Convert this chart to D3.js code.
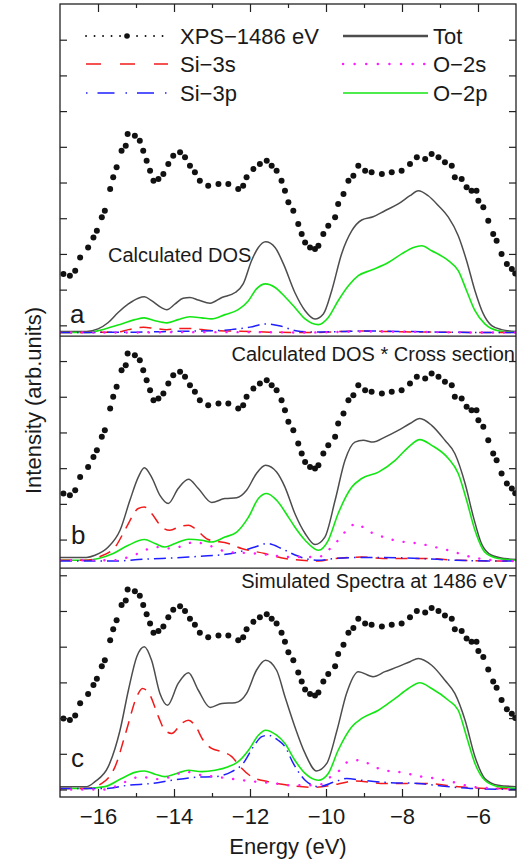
<!DOCTYPE html>
<html>
<head>
<meta charset="utf-8">
<script src="https://cdn.jsdelivr.net/npm/d3@7"></script>
<style>
  html, body { margin: 0; padding: 0; background: #fff; }
  svg { display: block; font-family: "Liberation Sans", Arial, Helvetica, sans-serif; }
</style>
</head>
<body>
<div id="chart"></div>
<script>
// x axis
const energyDomain = [-17, -5];
const energyMajorTicks = [-16, -14, -12, -10, -8, -6];
const energyMinorTicks = [-15, -13, -11, -9, -7];
// one intensity axis for the stacked panels, ticks every unit
const intensityDomain = [-0.21, 22.0];
const intensityTicks = d3.range(0, 22);

// XPS at 1486 eV (read in panel-a units, panels b and c reuse it shifted)
const xpsEnergy = [-16.91, -16.74, -16.6, -16.47, -16.26, -16.12, -16.03, -15.9, -15.82, -15.68,
  -15.6, -15.51, -15.38, -15.27, -15.22, -15.03, -14.9, -14.81, -14.72, -14.63,
  -14.54, -14.41, -14.28, -14.15, -14.02, -13.84, -13.71, -13.58, -13.45, -13.32,
  -13.1, -12.83, -12.57, -12.31, -12.18, -12.09, -11.91, -11.74, -11.56, -11.43,
  -11.3, -11.17, -11.08, -10.99, -10.86, -10.73, -10.64, -10.55, -10.42, -10.29,
  -10.2, -10.07, -9.94, -9.76, -9.68, -9.54, -9.41, -9.28, -9.15, -8.97,
  -8.8, -8.53, -8.27, -8.01, -7.79, -7.61, -7.39, -7.22, -7.04, -6.87,
  -6.69, -6.61, -6.43, -6.3, -6.17, -6.04, -5.99, -5.86, -5.73, -5.6,
  -5.51, -5.38, -5.24, -5.11, -5.02];
const xpsIntensity = [1.44, 1.39, 1.53, 1.90, 2.18, 2.46, 2.65, 3.03, 3.21, 3.82,
  4.15, 4.43, 4.89, 5.03, 5.36, 5.31, 5.17, 4.89, 4.61, 4.33,
  4.05, 4.10, 4.24, 4.52, 4.75, 4.85, 4.71, 4.47, 4.29, 4.05,
  3.91, 3.96, 3.96, 3.82, 3.91, 4.15, 4.38, 4.52, 4.61, 4.47,
  4.33, 4.05, 3.77, 3.45, 3.21, 2.84, 2.56, 2.32, 2.18, 2.14,
  2.23, 2.56, 2.79, 3.03, 3.40, 3.68, 4.05, 4.19, 4.47, 4.33,
  4.29, 4.24, 4.29, 4.33, 4.52, 4.71, 4.66, 4.80, 4.71, 4.57,
  4.47, 4.15, 4.10, 3.87, 3.77, 3.77, 3.49, 3.31, 2.93, 2.56,
  2.37, 2.00, 1.72, 1.58, 1.45];

// panel a: calculated DOS  [energy, intensity]
const totA = [[-17, -0.17], [-16.3, -0.17], [-16.0, -0.10], [-15.73, 0.08], [-15.47, 0.36], [-15.2, 0.60],
  [-14.94, 0.76], [-14.78, 0.80], [-14.59, 0.69], [-14.32, 0.49], [-14.19, 0.44], [-13.97, 0.60],
  [-13.76, 0.76], [-13.58, 0.78], [-13.36, 0.71], [-13.05, 0.62], [-12.74, 0.78], [-12.39, 0.92],
  [-12.18, 1.16], [-11.96, 1.81], [-11.78, 2.18], [-11.59, 2.34], [-11.34, 2.18], [-11.12, 1.72],
  [-10.82, 0.92], [-10.55, 0.41], [-10.29, 0.18], [-10.07, 0.32], [-9.85, 0.97], [-9.59, 2.0],
  [-9.32, 2.65], [-9.06, 2.95], [-8.76, 3.04], [-8.45, 3.21], [-8.1, 3.40], [-7.79, 3.63],
  [-7.57, 3.77], [-7.31, 3.63], [-7.04, 3.35], [-6.78, 3.03], [-6.52, 2.51], [-6.3, 1.81],
  [-6.08, 0.97], [-5.86, 0.32], [-5.64, -0.01], [-5.38, -0.12], [-5.0, -0.17]];
const o2pA = [[-17, -0.2], [-16.3, -0.2], [-15.82, -0.10], [-15.38, 0.04], [-15.03, 0.16], [-14.78, 0.21],
  [-14.5, 0.13], [-14.19, 0.07], [-13.89, 0.16], [-13.58, 0.24], [-13.27, 0.21], [-13.01, 0.18],
  [-12.66, 0.30], [-12.31, 0.44], [-12.04, 0.69], [-11.83, 1.02], [-11.59, 1.16], [-11.34, 1.06],
  [-11.08, 0.80], [-10.82, 0.50], [-10.55, 0.18], [-10.2, 0.02], [-9.94, 0.22], [-9.68, 0.69],
  [-9.41, 1.11], [-9.15, 1.39], [-8.8, 1.55], [-8.36, 1.76], [-8.01, 2.0], [-7.7, 2.18],
  [-7.48, 2.23], [-7.22, 2.09], [-6.78, 1.81], [-6.52, 1.53], [-6.3, 0.97], [-6.08, 0.41],
  [-5.82, 0.04], [-5.47, -0.15], [-5.0, -0.2]];
const si3sA = [[-17, -0.2], [-15.5, -0.19], [-15.2, -0.12], [-14.8, -0.05], [-14.5, -0.09], [-14.2, -0.12],
  [-13.8, -0.09], [-13.5, -0.09], [-13.1, -0.14], [-12.5, -0.16], [-12, -0.17], [-11.5, -0.19],
  [-10.3, -0.2], [-9.5, -0.17], [-9, -0.16], [-8.5, -0.17], [-8, -0.18], [-7, -0.19], [-6, -0.2], [-5, -0.2]];
const si3pA = [[-17, -0.2], [-15, -0.19], [-14, -0.17], [-13, -0.15], [-12.5, -0.12], [-12, -0.05],
  [-11.6, 0.04], [-11.2, -0.02], [-10.8, -0.15], [-10.3, -0.19], [-9.5, -0.17], [-9, -0.16],
  [-8, -0.17], [-7, -0.19], [-6, -0.2], [-5, -0.2]];
const o2sA = [[-17, -0.2], [-15, -0.2], [-14, -0.19], [-12, -0.19], [-10.5, -0.2], [-9.5, -0.18],
  [-9, -0.17], [-8, -0.18], [-7, -0.19], [-6, -0.2], [-5, -0.2]];

// panel b: calculated DOS * cross section
const totB = [[-17, 0.5], [-16.3, 0.5], [-16.08, 0.56], [-15.73, 0.79], [-15.42, 1.26], [-15.16, 2.10],
  [-14.94, 2.75], [-14.78, 3.01], [-14.59, 2.75], [-14.37, 2.24], [-14.15, 2.01], [-13.89, 2.43],
  [-13.62, 2.69], [-13.36, 2.43], [-13.01, 2.04], [-12.66, 2.15], [-12.35, 2.17], [-12.09, 2.38],
  [-11.83, 2.85], [-11.59, 3.08], [-11.3, 2.89], [-11.08, 2.47], [-10.82, 1.73], [-10.55, 1.17],
  [-10.29, 0.86], [-10.03, 1.07], [-9.76, 2.10], [-9.5, 3.22], [-9.24, 3.73], [-9.02, 3.78],
  [-8.76, 3.73], [-8.45, 3.87], [-8.1, 4.06], [-7.79, 4.25], [-7.53, 4.39], [-7.22, 4.20],
  [-6.87, 3.78], [-6.61, 3.41], [-6.34, 2.57], [-6.12, 1.63], [-5.91, 0.89], [-5.64, 0.56],
  [-5.29, 0.47], [-5.0, 0.44]];
const o2pB = [[-17, 0.42], [-16.3, 0.42], [-15.99, 0.47], [-15.6, 0.61], [-15.2, 0.84], [-14.78, 1.0],
  [-14.5, 0.89], [-14.24, 0.79], [-13.97, 0.89], [-13.62, 1.01], [-13.27, 0.98], [-13.01, 0.93],
  [-12.66, 1.07], [-12.35, 1.21], [-12.04, 1.63], [-11.78, 2.15], [-11.56, 2.29], [-11.3, 2.10],
  [-10.99, 1.63], [-10.82, 1.35], [-10.55, 0.98], [-10.2, 0.70], [-9.94, 0.98], [-9.68, 1.73],
  [-9.32, 2.47], [-9.06, 2.71], [-8.62, 2.89], [-8.18, 3.22], [-7.83, 3.59], [-7.53, 3.80],
  [-7.22, 3.64], [-6.78, 3.27], [-6.52, 2.85], [-6.3, 2.10], [-6.08, 1.26], [-5.82, 0.65],
  [-5.47, 0.47], [-5.0, 0.42]];
const si3sB = [[-17, 0.42], [-16.3, 0.42], [-15.99, 0.51], [-15.55, 0.79], [-15.25, 1.35], [-14.94, 1.87],
  [-14.78, 1.91], [-14.59, 1.73], [-14.32, 1.35], [-14.11, 1.26], [-13.84, 1.37], [-13.62, 1.40],
  [-13.45, 1.31], [-13.1, 1.0], [-12.57, 0.89], [-12.22, 0.75], [-11.61, 0.61], [-11.08, 0.47],
  [-10.2, 0.40], [-9.76, 0.47], [-9.06, 0.51], [-8.5, 0.47], [-7.4, 0.47], [-6.5, 0.42],
  [-5.5, 0.40], [-5, 0.40]];
const si3pB = [[-17, 0.40], [-15.5, 0.40], [-14.94, 0.44], [-13.62, 0.51], [-12.48, 0.61], [-11.87, 0.79],
  [-11.56, 0.89], [-11.17, 0.75], [-10.9, 0.61], [-10.55, 0.47], [-10.2, 0.42], [-9.76, 0.47],
  [-8.9, 0.50], [-7.5, 0.47], [-6.6, 0.42], [-5.5, 0.40], [-5, 0.40]];
const o2sB = [[-17, 0.42], [-15.6, 0.42], [-14.94, 0.61], [-14.5, 0.79], [-14.06, 0.75], [-13.45, 0.93],
  [-13.1, 0.84], [-12.57, 0.65], [-11.87, 0.61], [-11.43, 0.56], [-10.99, 0.51], [-10.2, 0.51],
  [-9.94, 0.70], [-9.68, 0.98], [-9.46, 1.26], [-9.19, 1.45], [-8.93, 1.26], [-8.62, 1.12],
  [-8.27, 1.0], [-7.92, 0.93], [-7.57, 0.89], [-7.13, 0.79], [-6.78, 0.70], [-6.17, 0.51],
  [-5.6, 0.42], [-5, 0.40]];

// panel c: simulated spectra at 1486 eV
const totC = [[-17, 0.08], [-16.3, 0.08], [-16.08, 0.22], [-15.73, 0.64], [-15.42, 1.66], [-15.2, 2.78],
  [-14.98, 3.72], [-14.78, 4.0], [-14.59, 3.62], [-14.37, 2.69], [-14.17, 2.36], [-13.89, 2.97],
  [-13.62, 3.27], [-13.36, 2.78], [-13.05, 2.30], [-12.74, 2.41], [-12.39, 2.43], [-12.09, 2.69],
  [-11.83, 3.34], [-11.59, 3.62], [-11.3, 3.34], [-11.08, 2.60], [-10.82, 1.76], [-10.55, 1.01],
  [-10.25, 0.52], [-9.98, 0.73], [-9.71, 1.66], [-9.46, 2.69], [-9.15, 3.30], [-8.76, 3.16],
  [-8.45, 3.30], [-8.1, 3.44], [-7.79, 3.58], [-7.57, 3.67], [-7.22, 3.48], [-6.87, 3.06],
  [-6.61, 2.69], [-6.34, 1.94], [-6.08, 0.92], [-5.82, 0.31], [-5.47, 0.12], [-5.0, 0.08]];
const o2pC = [[-17, 0.03], [-16.3, 0.03], [-15.82, 0.08], [-15.38, 0.31], [-15.03, 0.48], [-14.78, 0.52],
  [-14.5, 0.43], [-14.24, 0.36], [-13.93, 0.45], [-13.62, 0.54], [-13.27, 0.50], [-12.92, 0.54],
  [-12.57, 0.64], [-12.31, 0.78], [-12.04, 1.10], [-11.78, 1.52], [-11.59, 1.66], [-11.3, 1.52],
  [-11.08, 1.29], [-10.82, 0.82], [-10.55, 0.45], [-10.2, 0.26], [-9.94, 0.45], [-9.68, 1.10],
  [-9.32, 1.76], [-9.06, 1.99], [-8.62, 2.22], [-8.18, 2.55], [-7.83, 2.83], [-7.53, 2.99],
  [-7.22, 2.83], [-6.78, 2.50], [-6.52, 2.22], [-6.3, 1.48], [-6.08, 0.73], [-5.82, 0.26],
  [-5.47, 0.08], [-5.0, 0.03]];
const si3sC = [[-17, 0.03], [-16.3, 0.03], [-15.9, 0.17], [-15.55, 0.64], [-15.25, 1.66], [-14.98, 2.60],
  [-14.83, 2.83], [-14.63, 2.64], [-14.41, 2.04], [-14.24, 1.66], [-14.06, 1.57], [-13.8, 1.85],
  [-13.62, 1.94], [-13.45, 1.80], [-13.23, 1.38], [-13.01, 1.15], [-12.74, 1.06], [-12.48, 0.92],
  [-12.26, 0.64], [-11.96, 0.36], [-11.52, 0.22], [-10.99, 0.12], [-10.3, 0.06], [-9.7, 0.15],
  [-9.24, 0.24], [-8.45, 0.17], [-7.4, 0.17], [-6.52, 0.08], [-5.8, 0.03], [-5, 0.02]];
const si3pC = [[-17, 0.03], [-15.8, 0.03], [-15.2, 0.12], [-14.59, 0.17], [-14.06, 0.26], [-13.45, 0.34],
  [-12.92, 0.36], [-12.48, 0.50], [-12.18, 0.73], [-11.91, 1.20], [-11.69, 1.48], [-11.52, 1.52],
  [-11.26, 1.38], [-11.08, 1.20], [-10.86, 0.73], [-10.55, 0.26], [-10.2, 0.08], [-9.76, 0.22],
  [-9.46, 0.31], [-9.06, 0.26], [-8.45, 0.20], [-7.57, 0.17], [-6.96, 0.10], [-6.2, 0.03], [-5, 0.0]];
const o2sC = [[-17, 0.0], [-15.8, 0.0], [-15.38, 0.17], [-14.86, 0.36], [-14.5, 0.29], [-14.06, 0.36],
  [-13.71, 0.50], [-13.27, 0.40], [-12.92, 0.36], [-12.57, 0.31], [-11.87, 0.22], [-11.34, 0.17],
  [-10.99, 0.12], [-10.2, 0.12], [-9.94, 0.31], [-9.68, 0.50], [-9.41, 0.78], [-9.1, 0.82],
  [-8.8, 0.68], [-8.49, 0.54], [-8.14, 0.50], [-7.79, 0.43], [-7.48, 0.36], [-7.13, 0.31],
  [-6.78, 0.24], [-6.17, 0.08], [-5.6, 0.03], [-5, 0.0]];

const seriesLabels = ['XPS\u22121486 eV', 'Tot', 'Si\u22123s', 'O\u22122s', 'Si\u22123p', 'O\u22122p'];
const panelTitles = ['Calculated DOS', 'Calculated DOS * Cross section', 'Simulated Spectra at 1486 eV'];
const panelLetters = ['a', 'b', 'c'];

// line looks, keyed by series
const styles = {
    tot:  { color: '#4d4d4d', width: 1.5, dash: null },
    o2p:  { color: '#14e614', width: 1.6, dash: null },
    si3s: { color: '#f21a1a', width: 1.5, dash: '12,8' },
    si3p: { color: '#1f1fff', width: 1.5, dash: '12,5,1.5,5' },
    o2s:  { color: '#ff1aff', width: 2.4, dash: '0.1,11', cap: 'round' }
};

const panels = [
    { letter: panelLetters[0], title: panelTitles[0], offset: 13, span: [12.7, 22.0],
      xpsOffset: 13, xpsScale: 1,
      curves: { tot: totA, o2p: o2pA, si3s: si3sA, si3p: si3pA, o2s: o2sA },
      titlePos: { x: 108, y: 261.7, anchor: 'start' }, letterPos: { x: 70, y: 323 } },
    { letter: panelLetters[1], title: panelTitles[1], offset: 6, span: [6.2, 12.7],
      xpsOffset: 6.85, xpsScale: 1,
      curves: { tot: totB, o2p: o2pB, si3s: si3sB, si3p: si3pB, o2s: o2sB },
      titlePos: { x: 515, y: 360.5, anchor: 'end' }, letterPos: { x: 71, y: 544 } },
    { letter: panelLetters[2], title: panelTitles[2], offset: 0, span: [-0.21, 6.2],
      xpsOffset: 0.667, xpsScale: 0.92,
      curves: { tot: totC, o2p: o2pC, si3s: si3sC, si3p: si3pC, o2s: o2sC },
      titlePos: { x: 507, y: 588, anchor: 'end' }, letterPos: { x: 71, y: 767 } }
];

const spectraChart = {
    width: 531,
    height: 866,
    frame: { left: 60, right: 516, top: 4, bottom: 797 },
    svg: null,
    x: null,
    y: null,

    init(containerId) {
        this.svg = d3.select(`#${containerId}`)
            .append('svg')
            .attr('width', this.width)
            .attr('height', this.height);

        this.x = d3.scaleLinear().domain(energyDomain).range([this.frame.left, this.frame.right]);
        this.y = d3.scaleLinear().domain(intensityDomain).range([this.frame.bottom, this.frame.top]);
    },

    render() {
        panels.forEach((p, i) => this.drawPanel(p, i));
        this.drawFrame();
        this.drawAxes();
        this.drawLegend();
    },

    drawPanel(p, i) {
        const x = this.x, y = this.y;
        const defs = this.svg.append('defs');
        defs.append('clipPath')
            .attr('id', `clip-${i}`)
            .append('rect')
            .attr('x', this.frame.left)
            .attr('y', y(p.span[1]))
            .attr('width', this.frame.right - this.frame.left)
            .attr('height', y(p.span[0]) - y(p.span[1]));

        const g = this.svg.append('g').attr('clip-path', `url(#clip-${i})`);

        const line = d3.line()
            .x(d => x(d[0]))
            .y(d => y(d[1] + p.offset))
            .curve(d3.curveMonotoneX);

        ['tot', 'o2p', 'si3s', 'si3p', 'o2s'].forEach(key => {
            const s = styles[key];
            g.append('path')
                .datum(p.curves[key])
                .attr('d', line)
                .attr('fill', 'none')
                .attr('stroke', s.color)
                .attr('stroke-width', s.width)
                .attr('stroke-dasharray', s.dash)
                .attr('stroke-linecap', s.cap || 'butt');
        });

        // XPS points
        g.append('g')
            .selectAll('circle')
            .data(xpsEnergy)
            .join('circle')
            .attr('cx', d => x(d))
            .attr('cy', (d, j) => y(xpsIntensity[j] * p.xpsScale + p.xpsOffset))
            .attr('r', 3)
            .attr('fill', '#111');

        this.svg.append('text')
            .attr('x', p.titlePos.x)
            .attr('y', p.titlePos.y)
            .attr('text-anchor', p.titlePos.anchor)
            .attr('font-size', '20px')
            .attr('fill', '#1a1a1a')
            .text(p.title);

        this.svg.append('text')
            .attr('x', p.letterPos.x)
            .attr('y', p.letterPos.y)
            .attr('font-size', '26px')
            .attr('fill', '#1a1a1a')
            .text(p.letter);
    },

    drawFrame() {
        const f = this.frame;
        this.svg.append('rect')
            .attr('x', f.left)
            .attr('y', f.top)
            .attr('width', f.right - f.left)
            .attr('height', f.bottom - f.top)
            .attr('fill', 'none')
            .attr('stroke', '#222')
            .attr('stroke-width', 1.3);

        // panel separators
        this.svg.append('g')
            .selectAll('line')
            .data([panels[0].span[0], panels[1].span[0]])
            .join('line')
            .attr('x1', f.left)
            .attr('x2', f.right)
            .attr('y1', d => this.y(d))
            .attr('y2', d => this.y(d))
            .attr('stroke', '#222')
            .attr('stroke-width', 1.3);
    },

    drawAxes() {
        const f = this.frame;
        const tidy = sel => {
            sel.select('.domain').remove();
            sel.selectAll('.tick line').attr('stroke', '#222').attr('stroke-width', 1.2);
            sel.selectAll('.tick text')
                .attr('fill', '#1a1a1a')
                .style('font-size', '22px')
                .style('font-family', '"Liberation Sans", Arial, Helvetica, sans-serif');
        };

        this.svg.append('g')
            .attr('transform', `translate(0,${f.bottom})`)
            .call(d3.axisBottom(this.x).tickValues(energyMajorTicks).tickSize(-8).tickPadding(11))
            .call(tidy);
        this.svg.append('g')
            .attr('transform', `translate(0,${f.bottom})`)
            .call(d3.axisBottom(this.x).tickValues(energyMinorTicks).tickSize(-4).tickFormat(''))
            .call(tidy);
        this.svg.append('g')
            .attr('transform', `translate(0,${f.top})`)
            .call(d3.axisTop(this.x).tickValues(energyMajorTicks).tickSize(-8).tickFormat(''))
            .call(tidy);
        this.svg.append('g')
            .attr('transform', `translate(0,${f.top})`)
            .call(d3.axisTop(this.x).tickValues(energyMinorTicks).tickSize(-4).tickFormat(''))
            .call(tidy);

        this.svg.append('g')
            .attr('transform', `translate(${f.left},0)`)
            .call(d3.axisLeft(this.y).tickValues(intensityTicks).tickSize(-7).tickFormat(''))
            .call(tidy);
        this.svg.append('g')
            .attr('transform', `translate(${f.right},0)`)
            .call(d3.axisRight(this.y).tickValues(intensityTicks).tickSize(-7).tickFormat(''))
            .call(tidy);

        this.svg.append('text')
            .attr('x', (f.left + f.right) / 2)
            .attr('y', 854)
            .attr('text-anchor', 'middle')
            .attr('font-size', '22px')
            .attr('fill', '#1a1a1a')
            .text('Energy (eV)');

        this.svg.append('text')
            .attr('transform', `translate(41,${(f.top + f.bottom) / 2}) rotate(-90)`)
            .attr('text-anchor', 'middle')
            .attr('font-size', '22px')
            .attr('fill', '#1a1a1a')
            .text('Intensity (arb.units)');
    },

    drawLegend() {
        const rows = [36, 64, 93];
        const cols = [{ x0: 86, x1: 168, tx: 180 }, { x0: 343, x1: 428, tx: 433 }];
        const items = [
            { label: seriesLabels[0], row: 0, col: 0, kind: 'xps' },
            { label: seriesLabels[1], row: 0, col: 1, kind: 'tot' },
            { label: seriesLabels[2], row: 1, col: 0, kind: 'si3s' },
            { label: seriesLabels[3], row: 1, col: 1, kind: 'o2s' },
            { label: seriesLabels[4], row: 2, col: 0, kind: 'si3p' },
            { label: seriesLabels[5], row: 2, col: 1, kind: 'o2p' }
        ];
        const legendDash = { si3s: '15,19', si3p: '1.5,10,17,11', o2s: '0.1,11.5' };

        const g = this.svg.append('g').attr('class', 'legend');
        items.forEach(it => {
            const c = cols[it.col], ly = rows[it.row];
            if (it.kind === 'xps') {
                g.append('line')
                    .attr('x1', c.x0).attr('x2', c.x1 - 2)
                    .attr('y1', ly).attr('y2', ly)
                    .attr('stroke', '#111')
                    .attr('stroke-width', 1.8)
                    .attr('stroke-linecap', 'round')
                    .attr('stroke-dasharray', '0.1,8.4');
                g.append('circle')
                    .attr('cx', (c.x0 + c.x1) / 2)
                    .attr('cy', ly)
                    .attr('r', 2.8)
                    .attr('fill', '#111');
            } else {
                const s = styles[it.kind];
                g.append('line')
                    .attr('x1', c.x0).attr('x2', c.x1)
                    .attr('y1', ly).attr('y2', ly)
                    .attr('stroke', s.color)
                    .attr('stroke-width', it.kind === 'tot' ? 2.6 : s.width)
                    .attr('stroke-linecap', s.cap || 'butt')
                    .attr('stroke-dasharray', legendDash[it.kind] || null);
            }
            g.append('text')
                .attr('x', c.tx)
                .attr('y', ly + 8)
                .attr('font-size', '22px')
                .attr('fill', '#1a1a1a')
                .text(it.label);
        });
    }
};

spectraChart.init('chart');
spectraChart.render();
</script>
</body>
</html>
